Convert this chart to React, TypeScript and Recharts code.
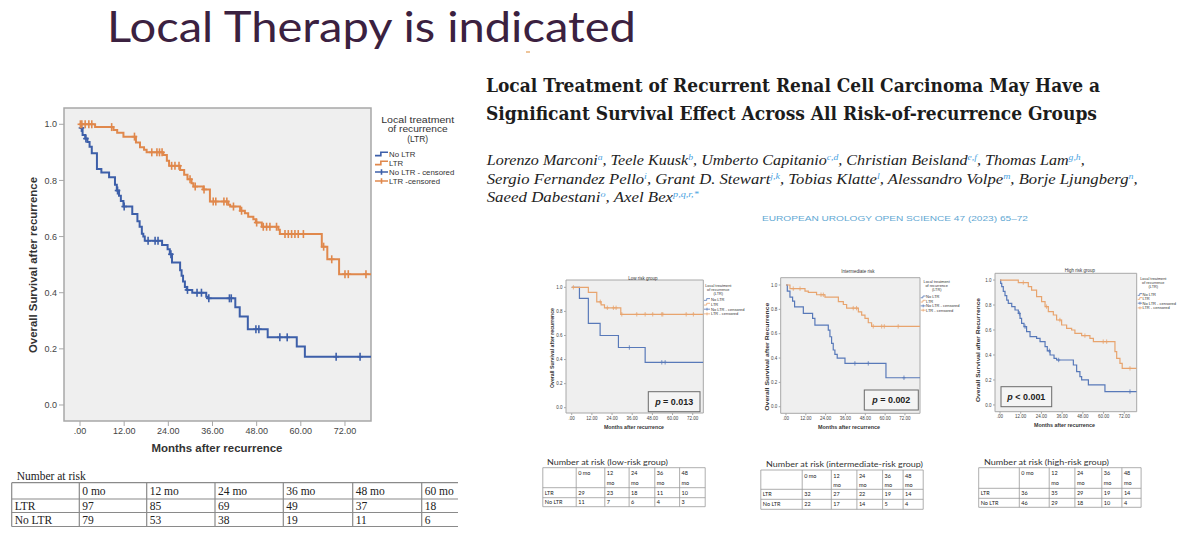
import React from 'react';
import { ComposedChart, Line, Scatter, XAxis, YAxis, ReferenceArea } from 'recharts';

type Pt = [number, number];

// ---------- axis ticks ----------
const X_TICKS = [0, 12, 24, 36, 48, 60, 72];
const Y_TICKS = [0, 0.2, 0.4, 0.6, 0.8, 1.0];

// ---------- main chart (all patients) ----------
const MAIN_NO_LTR: Pt[] = [
  [0, 0.987], [0.7, 0.962], [1.4, 0.949], [2.0, 0.937], [2.6, 0.92], [3.2, 0.897], [4.6, 0.841],
  [5.8, 0.828], [7.9, 0.811], [9.5, 0.785], [10.0, 0.764], [10.6, 0.745], [11.1, 0.727], [11.8, 0.707],
  [14.2, 0.68], [15.6, 0.655], [16.2, 0.635], [16.8, 0.61], [17.2, 0.6], [17.6, 0.585], [22.3, 0.57],
  [23.8, 0.555], [24.4, 0.537], [25.0, 0.508], [27.2, 0.48], [27.6, 0.46], [28.0, 0.44], [28.5, 0.42],
  [29.0, 0.41], [30.5, 0.4], [34.3, 0.386], [34.8, 0.38], [42.2, 0.348], [43.4, 0.315], [45.6, 0.27],
  [51.0, 0.241], [58.9, 0.208], [61.1, 0.172], [79.07, 0.172],
];
const MAIN_NO_LTR_CENSORED: Pt[] = [
  [0.4, 0.987], [1.6, 0.949], [10.2, 0.764], [12.0, 0.707], [18.5, 0.585], [20.4, 0.585], [21.2, 0.585],
  [24.7, 0.537], [29.2, 0.41], [31.8, 0.4], [33.0, 0.4], [35.0, 0.38], [40.6, 0.38], [41.1, 0.38],
  [47.8, 0.27], [48.6, 0.27], [54.3, 0.241], [56.3, 0.241], [69.6, 0.172], [76.1, 0.172],
];
const MAIN_LTR: Pt[] = [
  [0, 1.0], [4.1, 0.99], [9.1, 0.98], [10.1, 0.97], [11.8, 0.956], [15.2, 0.935], [16.3, 0.918],
  [17.4, 0.909], [18.1, 0.9], [22.6, 0.891], [23.6, 0.87], [24.2, 0.852], [27.2, 0.837], [28.3, 0.82],
  [29.2, 0.804], [30.3, 0.79], [30.8, 0.778], [33.5, 0.768], [35.3, 0.725], [40.3, 0.713], [40.8, 0.707],
  [43.5, 0.692], [44.8, 0.683], [45.7, 0.671], [47.1, 0.662], [47.8, 0.65], [49.4, 0.635], [53.9, 0.624],
  [54.3, 0.609], [65.7, 0.564], [67.2, 0.519], [70.4, 0.466], [79.07, 0.466],
];
const MAIN_LTR_CENSORED: Pt[] = [
  [0.1, 1], [0.5, 1], [1.4, 1], [2.4, 1], [3.2, 1], [8.6, 0.99], [14.8, 0.956], [19.5, 0.9], [20.9, 0.9],
  [21.6, 0.9], [22.3, 0.9], [24.9, 0.852], [25.8, 0.852], [26.9, 0.852], [29.9, 0.804], [31.3, 0.778],
  [33.7, 0.768], [36.2, 0.725], [36.9, 0.725], [39.1, 0.725], [39.9, 0.725], [41.7, 0.707], [43.9, 0.692],
  [48.0, 0.65], [49.8, 0.635], [50.7, 0.635], [51.6, 0.635], [53.4, 0.635], [55.7, 0.609], [56.6, 0.609],
  [57.5, 0.609], [58.4, 0.609], [59.3, 0.609], [60.7, 0.609], [66.2, 0.564], [68.4, 0.519], [72.0, 0.466],
  [72.9, 0.466], [77.7, 0.466],
];

// ---------- low risk ----------
const LOW_NO_LTR: Pt[] = [[0, 1], [4.6, 0.909], [9.9, 0.7], [16.9, 0.6], [27.8, 0.5], [43.7, 0.377], [78.3, 0.377]];
const LOW_NO_LTR_CENSORED: Pt[] = [[34.3, 0.5], [53.6, 0.377], [55.6, 0.377]];
const LOW_LTR: Pt[] = [[0, 1], [9.9, 0.958], [14.9, 0.88], [17.5, 0.855], [19.5, 0.83], [29.2, 0.776], [78.3, 0.776]];
const LOW_LTR_CENSORED: Pt[] = [
  [1.0, 1], [17.0, 0.88], [21.2, 0.83], [24.8, 0.83], [26.4, 0.83], [29.8, 0.776], [38.7, 0.776],
  [43.7, 0.776], [48.2, 0.776], [53.6, 0.776], [54.2, 0.776], [68.1, 0.776], [72.4, 0.776],
];

// ---------- intermediate risk ----------
const INT_NO_LTR: Pt[] = [
  [0, 1], [0.8, 0.95], [2.4, 0.9], [4.0, 0.868], [5.2, 0.82], [10.5, 0.767], [16.1, 0.726], [17.5, 0.67],
  [25.6, 0.63], [26.6, 0.575], [27.6, 0.52], [28.6, 0.466], [29.6, 0.43], [31.0, 0.4], [35.7, 0.356],
  [60.5, 0.238], [81.1, 0.238],
];
const INT_NO_LTR_CENSORED: Pt[] = [[41.7, 0.356], [49.8, 0.356], [71.4, 0.238]];
const INT_LTR: Pt[] = [
  [0, 1], [2.4, 0.97], [11.5, 0.95], [13.5, 0.94], [18.5, 0.92], [23.6, 0.9], [31.7, 0.863], [34.7, 0.84],
  [36.7, 0.81], [43.8, 0.78], [45.8, 0.753], [47.8, 0.726], [49.8, 0.69], [51.8, 0.66], [81.1, 0.66],
];
const INT_LTR_CENSORED: Pt[] = [
  [4.4, 0.97], [8.5, 0.97], [21.2, 0.92], [22.6, 0.92], [40.7, 0.81], [42.7, 0.81], [52.8, 0.66],
  [57.9, 0.66], [59.5, 0.66], [67.9, 0.66],
];

// ---------- high risk ----------
const HIGH_NO_LTR: Pt[] = [
  [0, 1], [0.4, 0.973], [1.0, 0.947], [1.9, 0.91], [2.9, 0.875], [3.9, 0.84], [4.8, 0.813], [6.8, 0.787],
  [8.7, 0.76], [10.6, 0.733], [11.6, 0.693], [12.5, 0.653], [13.9, 0.627], [15.4, 0.587], [17.4, 0.547],
  [21.2, 0.533], [23.2, 0.507], [26.1, 0.467], [27.4, 0.433], [29.0, 0.4], [31.3, 0.373], [32.8, 0.36],
  [42.5, 0.32], [44.4, 0.267], [46.3, 0.227], [47.3, 0.2], [51.2, 0.16], [60.8, 0.107], [79.2, 0.107],
];
const HIGH_NO_LTR_CENSORED: Pt[] = [[11.2, 0.733], [14.5, 0.627], [28.6, 0.433], [34.0, 0.36], [75.3, 0.107]];
const HIGH_LTR: Pt[] = [
  [0, 1], [10.6, 0.98], [16.4, 0.947], [18.3, 0.92], [21.2, 0.867], [24.1, 0.827], [26.1, 0.787],
  [28.0, 0.747], [30.9, 0.72], [32.8, 0.68], [35.7, 0.64], [38.6, 0.613], [41.5, 0.6], [43.4, 0.573],
  [47.3, 0.555], [52.1, 0.533], [54.1, 0.507], [66.6, 0.427], [67.6, 0.373], [69.5, 0.333], [70.8, 0.293],
  [79.2, 0.293],
];
const HIGH_LTR_CENSORED: Pt[] = [[13.5, 0.98], [27.0, 0.787], [34.7, 0.68], [49.2, 0.555], [59.8, 0.507], [61.8, 0.507], [75.3, 0.293]];

// ---------- number-at-risk tables ----------
const MAIN_RISK_HEAD = ['', '0 mo', '12 mo', '24 mo', '36 mo', '48 mo', '60 mo'];
const MAIN_RISK_LTR = ['LTR', '97', '85', '69', '49', '37', '18'];
const MAIN_RISK_NO_LTR = ['No LTR', '79', '53', '38', '19', '11', '6'];
const SMALL_RISK_HEAD = ['', '0 mo', '12|mo', '24|mo', '36|mo', '48|mo'];
const LOW_RISK_LTR = ['LTR', '29', '23', '18', '11', '10'];
const LOW_RISK_NO_LTR = ['No LTR', '11', '7', '6', '4', '3'];
const INT_RISK_LTR = ['LTR', '32', '27', '22', '19', '14'];
const INT_RISK_NO_LTR = ['No LTR', '22', '17', '14', '5', '4'];
const HIGH_RISK_LTR = ['LTR', '36', '35', '29', '19', '14'];
const HIGH_RISK_NO_LTR = ['No LTR', '46', '29', '18', '10', '4'];

const LEGEND_TITLE = ['Local treatment', 'of recurrence', '(LTR)'];
const MAIN_LEGEND_ITEMS = ['No LTR', 'LTR', 'No LTR - censored', 'LTR -censored'];
const SMALL_LEGEND_ITEMS = ['No LTR', 'LTR', 'No LTR - censored', 'LTR - censored'];

// ---------- styles ----------
const BLUE = '#3d5fa9';
const ORANGE = '#e0884c';
const SBLUE = '#5879b9';
const SORANGE = '#e8a46e';
const FRAME = '#a8a8a8';
const PLOT_BG = '#efefef';
const CHART_FONT = '"Liberation Sans", Arial, sans-serif';

interface Series { steps: Pt[]; censors: Pt[]; color: string }
interface KMProps {
  left: number; top: number; width: number; height: number;
  margin: { top: number; right: number; bottom: number; left: number };
  yAxisWidth: number; xAxisHeight: number;
  xDomain: [number, number]; yDomain: [number, number];
  series: Series[]; fontSize: number; tickSize: number; tickMargin: number;
  strokeWidth: number; mark: number; markWidth: number; frameWidth: number;
}

const fmtX = (v: number) => (v === 0 ? '.00' : v.toFixed(2));
const fmtY = (v: number) => v.toFixed(1);
const rows = (a: Pt[]) => a.map(([t, s]) => ({ t, s }));

const makeMark = (h: number, w: number, color: string) => (props: any) => {
  const { cx, cy } = props;
  if (cx == null || cy == null) return <g />;
  return (
    <g>
      <line x1={cx} y1={cy - h} x2={cx} y2={cy + h} stroke={color} strokeWidth={w} />
      <line x1={cx - h * 0.7} y1={cy} x2={cx + h * 0.7} y2={cy} stroke={color} strokeWidth={w} />
    </g>
  );
};

function KMChart(p: KMProps) {
  const tickStyle = { fontSize: p.fontSize, fill: '#444', fontFamily: CHART_FONT };
  return (
    <div style={{ position: 'absolute', left: p.left, top: p.top }}>
      <ComposedChart width={p.width} height={p.height} margin={p.margin}>
        <XAxis type="number" dataKey="t" domain={p.xDomain} ticks={X_TICKS} tickFormatter={fmtX}
          allowDataOverflow interval={0} height={p.xAxisHeight} tick={tickStyle} tickSize={p.tickSize}
          tickMargin={p.tickMargin} axisLine={false} stroke={FRAME} />
        <YAxis type="number" domain={p.yDomain} ticks={Y_TICKS} tickFormatter={fmtY} allowDataOverflow
          interval={0} width={p.yAxisWidth} tick={tickStyle} tickSize={p.tickSize} tickMargin={p.tickMargin}
          axisLine={false} stroke={FRAME} />
        <ReferenceArea x1={p.xDomain[0]} x2={p.xDomain[1]} y1={p.yDomain[0]} y2={p.yDomain[1]}
          fill={PLOT_BG} fillOpacity={1} stroke={FRAME} strokeWidth={p.frameWidth} ifOverflow="visible" />
        {p.series.map((s, i) => (
          <Line key={'l' + i} data={rows(s.steps)} dataKey="s" type="stepAfter" stroke={s.color}
            strokeWidth={p.strokeWidth} dot={false} activeDot={false} isAnimationActive={false} />
        ))}
        {p.series.map((s, i) => (
          <Scatter key={'c' + i} data={rows(s.censors)} dataKey="s" fill={s.color}
            shape={makeMark(p.mark, p.markWidth, s.color)} isAnimationActive={false} />
        ))}
      </ComposedChart>
    </div>
  );
}

function LegendBlock(props: {
  titleX: number; titleYs: number[]; titleSize: number; titleLens?: number[]; iconX: number; iconW: number; textX: number;
  itemYs: number[]; itemSize: number; items: string[]; clipRight: number; id: string; blue: string; orange: string; sw: number;
}) {
  const p = props;
  return (
    <g fontFamily={CHART_FONT}>
      {LEGEND_TITLE.map((t, i) => (
        <text key={i} x={p.titleX} y={p.titleYs[i]} textAnchor="middle" fontSize={p.titleSize} fill="#333"
          textLength={p.titleLens ? p.titleLens[i] : undefined}
          lengthAdjust={p.titleLens ? 'spacingAndGlyphs' : undefined}>{t}</text>
      ))}
      <clipPath id={p.id}><rect x={p.iconX - 3} y={p.itemYs[0] - 40} width={p.clipRight - p.iconX + 3} height={120} /></clipPath>
      <g clipPath={`url(#${p.id})`}>
        {p.items.map((t, i) => {
          const color = i % 2 === 0 ? p.blue : p.orange;
          const cy = p.itemYs[i] - p.itemSize * 0.33;
          const h = p.itemSize * 0.22;
          const icon = i < 2
            ? <path d={`M${p.iconX},${cy + h}H${p.iconX + p.iconW * 0.45}V${cy - h}H${p.iconX + p.iconW}`} fill="none" stroke={color} strokeWidth={p.sw} />
            : <g>
              <line x1={p.iconX} y1={cy} x2={p.iconX + p.iconW} y2={cy} stroke={color} strokeWidth={p.sw} />
              <line x1={p.iconX + p.iconW * 0.5} y1={cy - h * 1.6} x2={p.iconX + p.iconW * 0.5} y2={cy + h * 1.6} stroke={color} strokeWidth={p.sw} />
            </g>;
          return (
            <g key={i}>
              {icon}
              <text x={p.textX} y={p.itemYs[i]} fontSize={p.itemSize} fill="#333">{t}</text>
            </g>
          );
        })}
      </g>
    </g>
  );
}

function RiskTable(props: {
  cols: number[]; rowsY: number[]; head: string[]; body: string[][]; fontSize: number; family: string;
  dx: number; headBase: number[]; stroke: string; sw: number; clipRight?: number; id: string;
}) {
  const p = props;
  const right = p.cols[p.cols.length - 1];
  const top = p.rowsY[0];
  const bottom = p.rowsY[p.rowsY.length - 1];
  const inner = (
    <g fontFamily={p.family} fontSize={p.fontSize} fill="#222">
      {p.rowsY.map((y, i) => (
        <line key={'h' + i} x1={p.cols[0]} y1={y} x2={right} y2={y} stroke={p.stroke} strokeWidth={p.sw} />
      ))}
      {p.cols.map((x, i) => (
        <line key={'v' + i} x1={x} y1={top} x2={x} y2={bottom} stroke={p.stroke} strokeWidth={p.sw} />
      ))}
      {p.head.map((h, c) => h.split('|').map((part, k) => (
        <text key={'hd' + c + '-' + k} x={p.cols[c] + p.dx} y={p.headBase[k]}>{part}</text>
      )))}
      {p.body.map((r, ri) => r.map((v, c) => (
        <text key={'b' + ri + '-' + c} x={p.cols[c] + p.dx}
          y={(p.rowsY[ri + 1] + p.rowsY[ri + 2]) / 2 + p.fontSize * 0.35}>{v}</text>
      )))}
    </g>
  );
  if (p.clipRight == null) return inner;
  return (
    <g>
      <clipPath id={p.id}><rect x={0} y={top - 5} width={p.clipRight} height={bottom - top + 10} /></clipPath>
      <g clipPath={`url(#${p.id})`}>{inner}</g>
    </g>
  );
}

function PBox({ x, y, w, h, value }: { x: number; y: number; w: number; h: number; value: string }) {
  return (
    <g>
      <rect x={x} y={y} width={w} height={h} fill="#f4f4f4" stroke="#6a6a6a" strokeWidth={1} />
      <text x={x + w / 2} y={y + h / 2 + 3.2} textAnchor="middle" fontFamily={CHART_FONT} fontWeight="bold"
        fontSize={9.5} fill="#222" textLength={38} lengthAdjust="spacingAndGlyphs">
        <tspan fontStyle="italic">p</tspan>{' ' + value}
      </text>
    </g>
  );
}

const AUTHORS: { t: string; sup?: boolean }[][] = [
  [{ t: 'Lorenzo Marconi' }, { t: 'a', sup: true }, { t: ', Teele Kuusk' }, { t: 'b', sup: true },
  { t: ', Umberto Capitanio' }, { t: 'c,d', sup: true }, { t: ', Christian Beisland' }, { t: 'e,f', sup: true },
  { t: ', Thomas Lam' }, { t: 'g,h', sup: true }, { t: ',' }],
  [{ t: 'Sergio Fernandez Pello' }, { t: 'i', sup: true }, { t: ', Grant D. Stewart' }, { t: 'j,k', sup: true },
  { t: ', Tobias Klatte' }, { t: 'l', sup: true }, { t: ', Alessandro Volpe' }, { t: 'm', sup: true },
  { t: ', Borje Ljungberg' }, { t: 'n', sup: true }, { t: ',' }],
  [{ t: 'Saeed Dabestani' }, { t: 'o', sup: true }, { t: ', Axel Bex' }, { t: 'p,q,r,*', sup: true }],
];
const AUTHOR_BASE = [165, 184.3, 202.3];
const AUTHOR_LEN = [598, 651, 212];

export default function App() {
  const small = { fontSize: 4.5, tickSize: 2, tickMargin: 1.5, strokeWidth: 1.2, mark: 2.2, markWidth: 0.8, frameWidth: 1, xAxisHeight: 12 };
  return (
    <div style={{ position: 'absolute', left: 0, top: 0, width: 1200, height: 538, overflow: 'hidden', background: '#fff' }}>
      <KMChart left={0} top={0} width={380} height={440} margin={{ top: 108, right: 9, bottom: 3, left: 0 }}
        yAxisWidth={64} xAxisHeight={16} xDomain={[-4.35, 79.07]} yDomain={[-0.057, 1.058]}
        series={[{ steps: MAIN_NO_LTR, censors: MAIN_NO_LTR_CENSORED, color: BLUE }, { steps: MAIN_LTR, censors: MAIN_LTR_CENSORED, color: ORANGE }]}
        fontSize={9} tickSize={5} tickMargin={2} strokeWidth={2} mark={4} markWidth={1.6} frameWidth={1.5} />
      <KMChart left={530} top={262} width={180} height={165} margin={{ top: 18, right: 6.7, bottom: 2, left: 0 }}
        yAxisWidth={36} xDomain={[-3.4, 78.3]} yDomain={[-0.044, 1.061]}
        series={[{ steps: LOW_NO_LTR, censors: LOW_NO_LTR_CENSORED, color: SBLUE }, { steps: LOW_LTR, censors: LOW_LTR_CENSORED, color: SORANGE }]}
        {...small} />
      <KMChart left={750} top={262} width={176} height={165} margin={{ top: 15.7, right: 6, bottom: 1.7, left: 0 }}
        yAxisWidth={30.7} xDomain={[-3.2, 81.1]} yDomain={[-0.054, 1.06]}
        series={[{ steps: INT_NO_LTR, censors: INT_NO_LTR_CENSORED, color: SBLUE }, { steps: INT_LTR, censors: INT_LTR_CENSORED, color: SORANGE }]}
        {...small} />
      <KMChart left={960} top={262} width={182} height={165} margin={{ top: 11.3, right: 5.3, bottom: 3.3, left: 0 }}
        yAxisWidth={35} xDomain={[-2.9, 79.2]} yDomain={[-0.054, 1.054]}
        series={[{ steps: HIGH_NO_LTR, censors: HIGH_NO_LTR_CENSORED, color: SBLUE }, { steps: HIGH_LTR, censors: HIGH_LTR_CENSORED, color: SORANGE }]}
        {...small} />

      <svg width={1200} height={538} style={{ position: 'absolute', left: 0, top: 0, pointerEvents: 'none' }}>
        {/* slide title */}
        <text x={107} y={42} fontFamily="Lato, 'Open Sans', sans-serif" fontSize={42} fill="#3b2140"
          textLength={529} lengthAdjust="spacingAndGlyphs">Local Therapy is indicated</text>
        <line x1={526} y1={52} x2={530} y2={52} stroke="#e9b27a" strokeWidth={1.5} />

        {/* main chart labels */}
        <text transform="translate(33,265) rotate(-90)" textAnchor="middle" dominantBaseline="central"
          fontFamily={CHART_FONT} fontWeight="bold" fontSize={10.5} fill="#333" textLength={176}
          lengthAdjust="spacingAndGlyphs">Overall Survival after recurrence</text>
        <text x={217} y={452} textAnchor="middle" fontFamily={CHART_FONT} fontWeight="bold" fontSize={11}
          fill="#333" textLength={131} lengthAdjust="spacingAndGlyphs">Months after recurrence</text>
        <LegendBlock id="lg0" titleX={417.7} titleYs={[122.8, 132.3, 141.8]} titleSize={8.2} titleLens={[73, 60, 21]}
          iconX={375} iconW={13} textX={389} itemYs={[156.5, 165.5, 174.5, 183.5]} itemSize={7.8}
          items={MAIN_LEGEND_ITEMS} clipRight={455} blue={BLUE} orange={ORANGE} sw={1.6} />

        {/* small chart titles and labels */}
        <g fontFamily={CHART_FONT} fill="#333">
          <text x={643} y={279.5} textAnchor="middle" fontSize={4.5}>Low risk group</text>
          <text x={858} y={273} textAnchor="middle" fontSize={4.5}>Intermediate risk</text>
          <text x={1080} y={271.5} textAnchor="middle" fontSize={4.5}>High risk group</text>
          <text transform="translate(551.7,348) rotate(-90)" textAnchor="middle" dominantBaseline="central"
            fontWeight="bold" fontSize={5} textLength={80} lengthAdjust="spacingAndGlyphs">Overall Survival after recurrence</text>
          <text transform="translate(767.3,356.7) rotate(-90)" textAnchor="middle" dominantBaseline="central"
            fontWeight="bold" fontSize={5.5} textLength={108} lengthAdjust="spacingAndGlyphs">Overall Survival after Recurrence</text>
          <text transform="translate(978.3,350) rotate(-90)" textAnchor="middle" dominantBaseline="central"
            fontWeight="bold" fontSize={5.5} textLength={104} lengthAdjust="spacingAndGlyphs">Overall Survival after Recurrence</text>
          <text x={634} y={429} textAnchor="middle" fontWeight="bold" fontSize={5.5} textLength={60}
            lengthAdjust="spacingAndGlyphs">Months after recurrence</text>
          <text x={849} y={428.5} textAnchor="middle" fontWeight="bold" fontSize={5.5} textLength={62}
            lengthAdjust="spacingAndGlyphs">Months after recurrence</text>
          <text x={1064.5} y={427} textAnchor="middle" fontWeight="bold" fontSize={5.5} textLength={61}
            lengthAdjust="spacingAndGlyphs">Months after recurrence</text>
        </g>
        <LegendBlock id="lg1" titleX={718.3} titleYs={[286.5, 290.5, 294.8]} titleSize={3.8} iconX={704} iconW={6}
          textX={711} itemYs={[300.8, 305.5, 310.5, 315.2]} itemSize={4} items={SMALL_LEGEND_ITEMS} clipRight={760}
          blue={SBLUE} orange={SORANGE} sw={0.8} />
        <LegendBlock id="lg2" titleX={936.7} titleYs={[282.5, 286.5, 290.5]} titleSize={3.8} iconX={920.7} iconW={5}
          textX={926} itemYs={[298.2, 302.5, 307.2, 311.5]} itemSize={4} items={SMALL_LEGEND_ITEMS} clipRight={975}
          blue={SBLUE} orange={SORANGE} sw={0.8} />
        <LegendBlock id="lg3" titleX={1153.3} titleYs={[279.8, 283.8, 287.8]} titleSize={3.8} iconX={1137.7} iconW={4.5}
          textX={1142.5} itemYs={[295.8, 299.8, 304.5, 309.2]} itemSize={4} items={SMALL_LEGEND_ITEMS} clipRight={1200}
          blue={SBLUE} orange={SORANGE} sw={0.8} />
        <PBox x={648.3} y={391.7} w={51.7} h={20} value="= 0.013" />
        <PBox x={864.3} y={390} w={54} h={20} value="= 0.002" />
        <PBox x={1001} y={386.7} w={50.7} h={20} value="< 0.001" />

        {/* paper title / authors / journal */}
        <g fontFamily="'DejaVu Serif', 'Liberation Serif', serif" fontWeight="bold" fontSize={18.5} fill="#1c1c1c">
          <text x={486} y={92} textLength={614} lengthAdjust="spacingAndGlyphs">Local Treatment of Recurrent Renal Cell Carcinoma May Have a</text>
          <text x={486} y={120} textLength={611} lengthAdjust="spacingAndGlyphs">Significant Survival Effect Across All Risk-of-recurrence Groups</text>
        </g>
        {AUTHORS.map((line, li) => (
          <text key={li} x={486.7} y={AUTHOR_BASE[li]} fontFamily="'Liberation Serif', serif" fontStyle="italic"
            fontSize={15} fill="#222" textLength={AUTHOR_LEN[li]} lengthAdjust="spacingAndGlyphs">
            {line.map((seg, si) => seg.sup
              ? <tspan key={si} dy={-5} fontSize={9} fill="#4aa3df">{seg.t}</tspan>
              : <tspan key={si} dy={si > 0 && line[si - 1].sup ? 5 : 0}>{seg.t}</tspan>)}
          </text>
        ))}
        <text x={762} y={221} fontFamily={CHART_FONT} fontSize={8} fill="#5fa8d3" textLength={266}
          lengthAdjust="spacingAndGlyphs">EUROPEAN UROLOGY OPEN SCIENCE 47 (2023) 65–72</text>

        {/* number-at-risk tables */}
        <text x={16.7} y={480} fontFamily="'Liberation Serif', serif" fontSize={11.5} fill="#222">Number at risk</text>
        <RiskTable id="t0" cols={[11.7, 79.3, 146.7, 215, 283.3, 352.7, 421.7, 490]} rowsY={[482.7, 499, 512.5, 526.5]}
          head={MAIN_RISK_HEAD} body={[MAIN_RISK_LTR, MAIN_RISK_NO_LTR]} fontSize={11.5} family="'Liberation Serif', serif"
          dx={3} headBase={[494.8]} stroke="#8a8a8a" sw={1.2} clipRight={458} />
        <g fontFamily="Lato, 'Liberation Sans', sans-serif" fill="#333">
          <text x={547} y={464.5} fontSize={8} textLength={121} lengthAdjust="spacingAndGlyphs">Number at risk (low-risk group)</text>
          <text x={766} y={467} fontSize={8} textLength={157} lengthAdjust="spacingAndGlyphs">Number at risk (intermediate-risk group)</text>
          <text x={984} y={465} fontSize={8} textLength={125} lengthAdjust="spacingAndGlyphs">Number at risk (high-risk group)</text>
        </g>
        <RiskTable id="t1" cols={[542.8, 576.2, 604.8, 629.1, 654.8, 679.6, 705.2]} rowsY={[467.7, 487.7, 497.7, 506.7]}
          head={SMALL_RISK_HEAD} body={[LOW_RISK_LTR, LOW_RISK_NO_LTR]} fontSize={5.5} family="Lato, sans-serif"
          dx={2} headBase={[475.2, 484.7]} stroke="#999" sw={0.8} />
        <RiskTable id="t2" cols={[760.8, 802.2, 831.3, 856.9, 882.6, 903.1, 923.2]} rowsY={[470, 489.3, 499.3, 509.3]}
          head={SMALL_RISK_HEAD} body={[INT_RISK_LTR, INT_RISK_NO_LTR]} fontSize={5.5} family="Lato, sans-serif"
          dx={2} headBase={[477.5, 487]} stroke="#999" sw={0.8} />
        <RiskTable id="t3" cols={[978.7, 1019.3, 1049.2, 1074.9, 1101.8, 1121.9, 1141.1]} rowsY={[467.7, 488.3, 498.3, 507.3]}
          head={SMALL_RISK_HEAD} body={[HIGH_RISK_LTR, HIGH_RISK_NO_LTR]} fontSize={5.5} family="Lato, sans-serif"
          dx={2} headBase={[475.2, 484.7]} stroke="#999" sw={0.8} />
      </svg>
    </div>
  );
}
